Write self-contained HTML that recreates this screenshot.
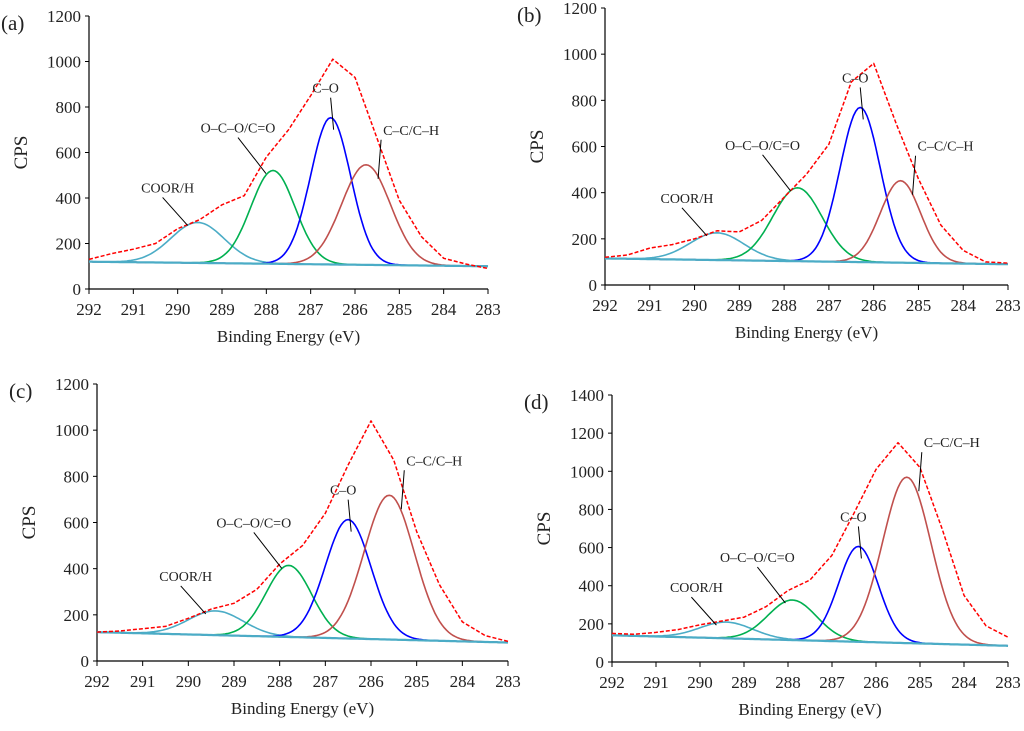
<!DOCTYPE html>
<html><head><meta charset="utf-8"><style>
body{margin:0;background:#fff;width:1024px;height:726px;overflow:hidden}
svg text{font-family:"Liberation Serif",serif;fill:#222}
</style></head><body>
<svg id="chart" width="1024" height="726" viewBox="0 0 1024 726" xmlns="http://www.w3.org/2000/svg"></svg>
<script>
const labels = ["COOR/H","O–C–O/C=O","C–O","C–C/C–H"];
const colors = ["#4bacc6","#00b050","#0000ff","#c0504d"];
const aCenters = [289.55, 287.85, 286.55, 285.75];
const aAmps = [178, 410, 645, 440];
const aSigmas = [0.6, 0.5, 0.45, 0.55];
const aBase = [120, 100];
const aEnvelope = [130,155,175,200,265,305,370,410,580,700,850,1010,930,660,390,230,135,110,90];
const bCenters = [289.5, 287.7, 286.3, 285.4];
const bAmps = [118, 318, 670, 355];
const bSigmas = [0.6, 0.55, 0.45, 0.45];
const bBase = [115, 90];
const bEnvelope = [120,130,160,175,200,235,230,280,380,480,610,880,960,700,460,260,150,100,95];
const cCenters = [289.4, 287.8, 286.5, 285.6];
const cAmps = [105, 310, 515, 625];
const cSigmas = [0.6, 0.5, 0.5, 0.55];
const cBase = [125, 80];
const cEnvelope = [125,130,140,150,185,225,250,310,420,500,640,850,1040,870,560,330,170,110,85];
const dCenters = [289.4, 287.9, 286.4, 285.3];
const dAmps = [85, 210, 500, 870];
const dSigmas = [0.6, 0.55, 0.45, 0.55];
const dBase = [140, 85];
const dEnvelope = [150,145,155,170,195,215,235,290,375,430,560,780,1010,1150,1020,700,350,190,130];
const envStart = 292, envStep = 0.5;
const xTicks = [292,291,290,289,288,287,286,285,284,283];
const yTicksA = [0,200,400,600,800,1000,1200];
const yTicksD = [0,200,400,600,800,1000,1200,1400];

const svg = document.getElementById('chart');
const NS = 'http://www.w3.org/2000/svg';
function mk(tag, attrs, parent){const e=document.createElementNS(NS,tag);for(const k in attrs)e.setAttribute(k,attrs[k]);(parent||svg).appendChild(e);return e;}

function panel(id, box, yMax, yTicks, centers, amps, sigmas, base, envelope, labelPos){
  const g = mk('g',{});
  
  
  const X = e => box.x0 + (292 - e) / 9 * (box.x1 - box.x0);
  const Y = v => box.y1 - v / yMax * (box.y1 - box.y0);
  const baseAt = e => base[0] + (base[1]-base[0]) * (292 - e) / 9;
  const comp = (i,e) => amps[i] * Math.exp(-Math.pow(e-centers[i],2)/(2*sigmas[i]*sigmas[i]));
  const ax = mk('path',{d:`M${box.x0},${box.y0}V${box.y1}H${box.x1}`,stroke:'#000','stroke-width':1.2,fill:'none'},g);
  
  
  yTicks.forEach(t=>{
    mk('line',{x1:box.x0-4,x2:box.x0,y1:Y(t),y2:Y(t),stroke:'#000'},g);
    const tx = mk('text',{x:box.x0-8,y:Y(t)+6,'text-anchor':'end','font-size':17},g);
    tx.textContent=t;
    
    
  });
  xTicks.forEach(t=>{
    mk('line',{x1:X(t),x2:X(t),y1:box.y1,y2:box.y1+5,stroke:'#000'},g);
    const tx = mk('text',{x:X(t),y:box.y1+26,'text-anchor':'middle','font-size':17},g);
    tx.textContent=t;
    
    
  });
  const xt = mk('text',{x:(box.x0+box.x1)/2,y:box.y1+53,'text-anchor':'middle','font-size':17},g);
  xt.textContent='Binding Energy (eV)';
  
  
  const yc=(box.y0+box.y1)/2, yx=box.x0-62;
  const yt = mk('text',{x:yx,y:yc,'text-anchor':'middle','font-size':19,transform:`rotate(-90 ${yx} ${yc})`},g);
  yt.textContent='CPS';
  
  
  const pl = mk('text',{x:box.x0-88,y:box.y0+14,'font-size':21},g);
  pl.textContent='('+id+')';
  
  
  const es=[]; for(let e=292;e>=283-1e-9;e-=0.05) es.push(e);
  const pathOf = f => 'M'+es.map(e=>X(e).toFixed(1)+','+Y(f(e)).toFixed(1)).join('L');
  centers.forEach((c,i)=>{
    const p = mk('path',{d:pathOf(e=>baseAt(e)+comp(i,e)),stroke:colors[i],'stroke-width':1.6,fill:'none'},g);
    
    
  });
  const bl = mk('path',{d:pathOf(baseAt),stroke:'#4bacc6','stroke-width':2.2,fill:'none'},g);
  
  
  const envD = 'M'+envelope.map((v,i)=>X(envStart-i*envStep).toFixed(1)+','+Y(v).toFixed(1)).join('L');
  const env = mk('path',{d:envD,stroke:'#ff0000','stroke-width':1.5,'stroke-dasharray':'4,2',fill:'none','stroke-linejoin':'round'},g);
  
  
  labelPos.forEach((lp,i)=>{
    const pk = baseAt(centers[i])+amps[i];
    const tx = X(centers[i]) + lp[2], ty = Y(pk) + lp[3];
    mk('line',{x1:X(centers[i])+lp[0]+lp[4],y1:Y(pk)+lp[1]+5,x2:tx,y2:ty,stroke:'#000','stroke-width':1},g);
    const t = mk('text',{x:X(centers[i])+lp[0],y:Y(pk)+lp[1],'text-anchor':'middle','font-size':14},g);
    t.textContent=labels[i];
    
    
  });
}
const lp = [[-30,-30,-10,3,-5],[-35,-38,-7,3,0],[-5,-25,3,12,5],[45,-30,12,14,-30]];
panel('a',{x0:89,x1:488,y0:16,y1:289},1200,yTicksA,aCenters,aAmps,aSigmas,aBase,aEnvelope,lp);
panel('b',{x0:605,x1:1008,y0:8,y1:285},1200,yTicksA,bCenters,bAmps,bSigmas,bBase,bEnvelope,lp);
panel('c',{x0:97,x1:508,y0:384,y1:661},1200,yTicksA,cCenters,cAmps,cSigmas,cBase,cEnvelope,lp);
panel('d',{x0:612,x1:1008,y0:395,y1:662},1400,yTicksD,dCenters,dAmps,dSigmas,dBase,dEnvelope,lp);
</script>
</body></html>
